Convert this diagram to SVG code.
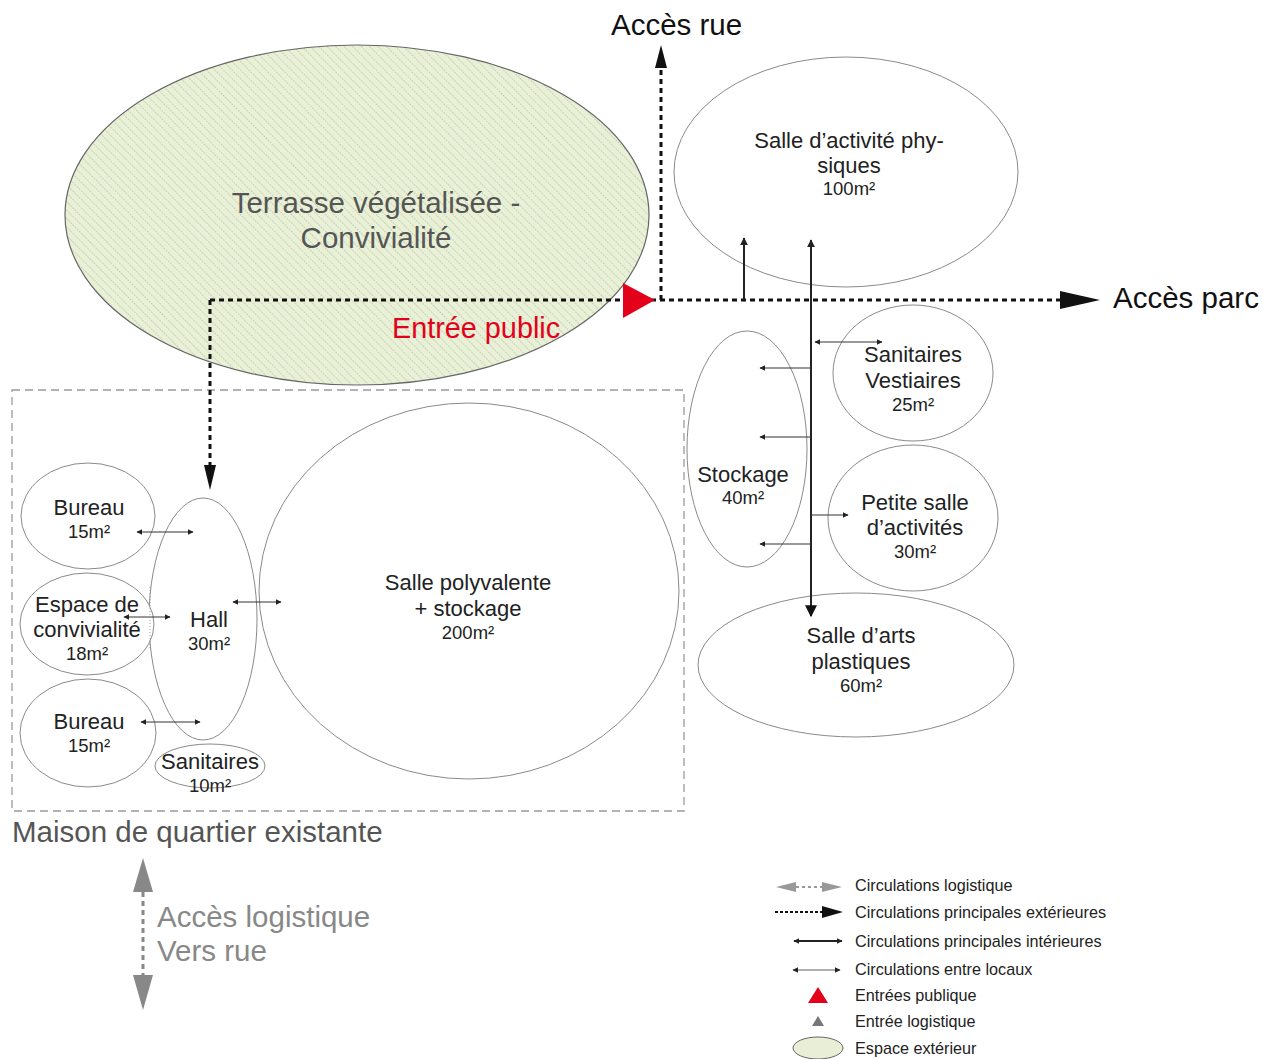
<svg xmlns="http://www.w3.org/2000/svg" width="1274" height="1059" viewBox="0 0 1274 1059">
<defs>
<pattern id="hatch" patternUnits="userSpaceOnUse" width="6" height="6" patternTransform="rotate(-45)">
<rect width="6" height="6" fill="#e8f1d6"/>
<line x1="0" y1="0" x2="0" y2="6" stroke="#a9b0a0" stroke-width="1" stroke-dasharray="2,1"/>
</pattern>
<marker id="ah" viewBox="0 0 10 10" refX="9" refY="5" markerWidth="8" markerHeight="8" markerUnits="userSpaceOnUse" orient="auto-start-reverse"><path d="M0,0 L10,5 L0,10 z" fill="#222"/></marker>
<marker id="ahs" viewBox="0 0 10 10" refX="9" refY="5" markerWidth="6" markerHeight="6" markerUnits="userSpaceOnUse" orient="auto-start-reverse"><path d="M0,0 L10,5 L0,10 z" fill="#222"/></marker>
<marker id="ahm" viewBox="0 0 10 10" refX="9" refY="5" markerWidth="12" markerHeight="12" markerUnits="userSpaceOnUse" orient="auto-start-reverse"><path d="M0,0 L10,5 L0,10 z" fill="#111"/></marker>
</defs>
<style>
.room{fill:#fff;stroke:#8a8a8a;stroke-width:1}
.t{font-family:"Liberation Sans",Arial,sans-serif;fill:#222;text-anchor:middle;font-size:22px}
.s{font-size:18.5px}
.big{font-family:"Liberation Sans",Arial,sans-serif;font-size:29.5px}
.dot{stroke:#111;stroke-width:3;stroke-dasharray:5,4;fill:none}
.thin{stroke:#333;stroke-width:1;fill:none}
.mid{stroke:#222;stroke-width:2;fill:none}
.lg{font-family:"Liberation Sans",Arial,sans-serif;font-size:16.2px;fill:#222}
</style>
<rect width="1274" height="1059" fill="#fff"/>

<g id="terrasse">
<ellipse cx="357" cy="215" rx="292" ry="170" fill="url(#hatch)" stroke="#666" stroke-width="1.2"/>
<text class="t" x="376" y="213" style="font-size:29.5px;fill:#555">Terrasse végétalisée -</text>
<text class="t" x="376" y="248" style="font-size:29.5px;fill:#555">Convivialité</text>
</g>

<g id="existing">
<rect x="12" y="390" width="672" height="421" fill="none" stroke="#9a9a9a" stroke-width="1.3" stroke-dasharray="8,5"/>
<text class="big" x="12" y="842" style="fill:#555">Maison de quartier existante</text>
</g>

<g id="salle-polyvalente">
<ellipse class="room" cx="469" cy="591" rx="210" ry="188"/>
<text class="t" x="468" y="590">Salle polyvalente</text>
<text class="t" x="468" y="616">+ stockage</text>
<text class="t s" x="468" y="639">200m²</text>
</g>
<g id="hall">
<ellipse class="room" cx="203" cy="619" rx="54" ry="121"/>
<text class="t" x="209" y="627">Hall</text>
<text class="t s" x="209" y="650">30m²</text>
</g>
<g id="bureau1">
<ellipse class="room" cx="88" cy="516" rx="67" ry="53"/>
<text class="t" x="89" y="515">Bureau</text>
<text class="t s" x="89" y="538">15m²</text>
</g>
<g id="espace">
<ellipse class="room" cx="87" cy="624" rx="67" ry="51"/>
<text class="t" x="87" y="612">Espace de</text>
<text class="t" x="87" y="637">convivialité</text>
<text class="t s" x="87" y="660">18m²</text>
</g>
<g id="bureau2">
<ellipse class="room" cx="88" cy="733" rx="68" ry="54"/>
<text class="t" x="89" y="729">Bureau</text>
<text class="t s" x="89" y="752">15m²</text>
</g>
<g id="sanitaires">
<ellipse class="room" cx="210" cy="766" rx="55" ry="22"/>
<text class="t" x="210" y="769">Sanitaires</text>
<text class="t s" x="210" y="792">10m²</text>
</g>

<g id="salle-physique">
<ellipse class="room" cx="846" cy="172" rx="172" ry="115"/>
<text class="t" x="849" y="148">Salle d’activité phy-</text>
<text class="t" x="849" y="173">siques</text>
<text class="t s" x="849" y="195">100m²</text>
</g>
<g id="stockage">
<ellipse class="room" cx="747" cy="449" rx="60" ry="118"/>
<text class="t" x="743" y="482">Stockage</text>
<text class="t s" x="743" y="504">40m²</text>
</g>
<g id="sanitaires-vestiaires">
<ellipse class="room" cx="913" cy="373" rx="80" ry="68"/>
<text class="t" x="913" y="362">Sanitaires</text>
<text class="t" x="913" y="388">Vestiaires</text>
<text class="t s" x="913" y="411">25m²</text>
</g>
<g id="petite-salle">
<ellipse class="room" cx="913" cy="518" rx="85" ry="73"/>
<text class="t" x="915" y="510">Petite salle</text>
<text class="t" x="915" y="535">d’activités</text>
<text class="t s" x="915" y="558">30m²</text>
</g>
<g id="salle-arts">
<ellipse class="room" cx="856" cy="665" rx="158" ry="72"/>
<text class="t" x="861" y="643">Salle d’arts</text>
<text class="t" x="861" y="669">plastiques</text>
<text class="t s" x="861" y="692">60m²</text>
</g>

<g id="connectors">
<path class="dot" d="M210,300 H1062"/>
<polygon points="1060,291 1100,300 1060,309" fill="#111"/>
<path class="dot" d="M210,300 V466"/>
<polygon points="204,465 210,490 216,465" fill="#111"/>
<path class="dot" d="M661,300 V68"/>
<polygon points="655,68 661,45 667,68" fill="#111"/>
<polygon points="623,283 655,300 623,318" fill="#e3001b"/>
<path class="mid" d="M744,300 V238" marker-end="url(#ah)"/>
<path class="mid" d="M811,240 V616" marker-start="url(#ah)" marker-end="url(#ahm)"/>
<path class="thin" d="M811,368 H760" marker-end="url(#ahs)"/>
<path class="thin" d="M811,437 H760" marker-end="url(#ahs)"/>
<path class="thin" d="M811,544 H760" marker-end="url(#ahs)"/>
<path class="thin" d="M811,515 H848" marker-end="url(#ahs)"/>
<path class="thin" d="M815,342 H882" marker-start="url(#ahs)" marker-end="url(#ahs)"/>
<path class="thin" d="M137,532 H193" marker-start="url(#ahs)" marker-end="url(#ahs)"/>
<path class="thin" d="M124,617 H170" marker-start="url(#ahs)" marker-end="url(#ahs)"/>
<path class="thin" d="M233,602 H281" marker-start="url(#ahs)" marker-end="url(#ahs)"/>
<path class="thin" d="M141,722 H200" marker-start="url(#ahs)" marker-end="url(#ahs)"/>
<line x1="150" y1="587" x2="150" y2="650" stroke="#999" stroke-width="1" stroke-dasharray="1,2"/>
<path d="M143,892 V975" stroke="#888" stroke-width="3" stroke-dasharray="5,4" fill="none"/>
<polygon points="133,892 143,858 153,892" fill="#888"/>
<polygon points="133,975 143,1010 153,975" fill="#888"/>
</g>

<g id="labels">
<text class="big" x="611" y="35" style="fill:#111">Accès rue</text>
<text class="big" x="1113" y="308" style="fill:#111">Accès parc</text>
<text class="big" x="392" y="338" style="fill:#e3001b;font-size:28.8px">Entrée public</text>
<text class="big" x="157" y="927" style="fill:#888">Accès logistique</text>
<text class="big" x="157" y="961" style="fill:#888">Vers rue</text>
</g>

<g id="legend">
<path d="M796,887 H822" stroke="#999" stroke-width="2" stroke-dasharray="3,3"/>
<polygon points="776,887 796,882 796,892" fill="#999"/>
<polygon points="842,887 822,882 822,892" fill="#999"/>
<text class="lg" x="855" y="891">Circulations logistique</text>
<path d="M775,912 H822" stroke="#111" stroke-width="2" stroke-dasharray="3,2"/>
<polygon points="822,906 843,912 822,918" fill="#111"/>
<text class="lg" x="855" y="918">Circulations principales extérieures</text>
<path class="mid" d="M794,941 H842" marker-start="url(#ahs)" marker-end="url(#ahs)"/>
<text class="lg" x="855" y="947">Circulations principales intérieures</text>
<path class="thin" d="M793,970 H840" marker-start="url(#ahs)" marker-end="url(#ahs)" style="stroke-width:0.8"/>
<text class="lg" x="855" y="975">Circulations entre locaux</text>
<polygon points="808,1003 818,987 828,1003" fill="#e3001b"/>
<text class="lg" x="855" y="1001">Entrées publique</text>
<polygon points="812,1026 818,1016 824,1026" fill="#777"/>
<text class="lg" x="855" y="1027">Entrée logistique</text>
<ellipse cx="818" cy="1048" rx="25" ry="11" fill="#e8efd6" stroke="#666" stroke-width="1"/>
<text class="lg" x="855" y="1054">Espace extérieur</text>
</g>
</svg>
